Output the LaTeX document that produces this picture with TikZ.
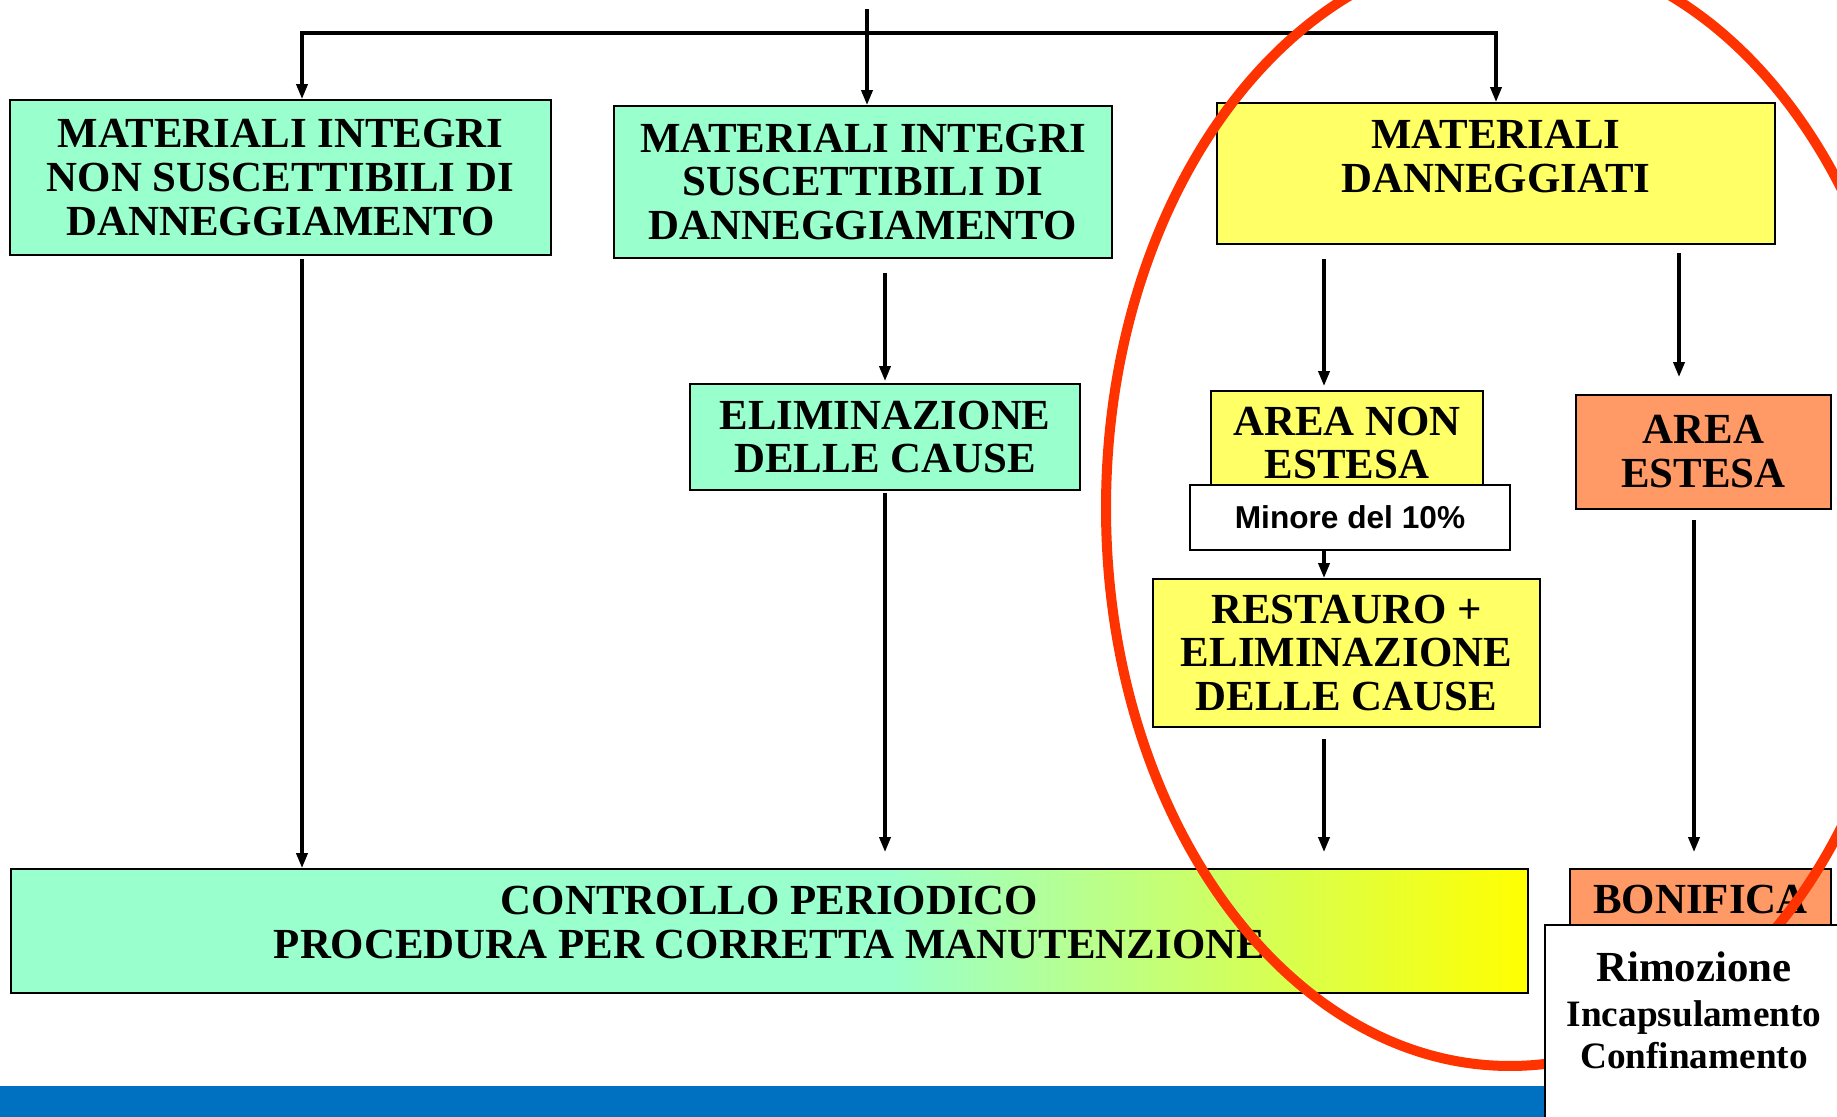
\documentclass[tikz,border=0pt]{standalone}
\usepackage{fontspec}
\setmainfont{Liberation Serif}
\newfontfamily\arialfont{Liberation Sans}
\usetikzlibrary{arrows.meta}

\definecolor{boxgreen}{HTML}{99FFCC}
\definecolor{boxyellow}{HTML}{FFFF66}
\definecolor{boxorange}{HTML}{FF9966}
\definecolor{ringred}{HTML}{FF3300}
\definecolor{barblue}{HTML}{0070C0}

% green to yellow, the path spans 25bp..75bp
\pgfdeclarehorizontalshading{controlshade}{100bp}{color(0bp)=(boxgreen); color(54bp)=(boxgreen); color(75bp)=(yellow); color(100bp)=(yellow)}

\newcommand{\boxfont}{\bfseries\fontsize{12.2}{12.5}\selectfont}

\begin{document}
\begin{tikzpicture}[x=0.1mm, y=-0.1mm,
  box/.style={draw, line width=0.5pt, align=center, inner sep=0pt, font=\boxfont},
  arr/.style={line width=1pt, -{Triangle[length=1.5mm, width=1.1mm]}}]

  \useasboundingbox (0,0) rectangle (1837,1117);
  \fill[barblue] (0,1086) rectangle (1837,1117);

  % Top row
  \node[box, fill=boxgreen, minimum width=54.1mm, minimum height=15.5mm] (integri) at (280.5,177.5)
    {MATERIALI INTEGRI\\NON SUSCETTIBILI DI\\DANNEGGIAMENTO};
  \node[box, fill=boxgreen, minimum width=49.8mm, minimum height=15.2mm] (suscett) at (863,182)
    {MATERIALI INTEGRI\\SUSCETTIBILI DI\\DANNEGGIAMENTO};
  \node[box, fill=boxyellow, minimum width=55.8mm, minimum height=14.1mm] (dann) at (1496,173.5)
    {MATERIALI\\DANNEGGIATI\\[-3pt]\mbox{}};

  % Middle row
  \node[box, fill=boxgreen, minimum width=39mm, minimum height=10.6mm] (elim) at (885,437)
    {ELIMINAZIONE\\DELLE CAUSE};
  \node[box, fill=boxyellow, minimum width=27.2mm, minimum height=10.4mm] (nonest) at (1347,443)
    {AREA NON\\ESTESA};
  \node[box, fill=white, minimum width=32mm, minimum height=6.5mm, font=\arialfont\bfseries\fontsize{9}{10}\selectfont] (minore) at (1350,517.5)
    {Minore del 10\%};
  \node[box, fill=boxorange, minimum width=25.5mm, minimum height=11.4mm] (estesa) at (1703.5,452)
    {AREA\\ESTESA};
  \node[box, fill=boxyellow, minimum width=38.7mm, minimum height=14.8mm] (restauro) at (1346.5,653)
    {RESTAURO +\\ELIMINAZIONE\\DELLE CAUSE};

  % Bottom row
  \node[box, shade, shading=controlshade, minimum width=151.7mm, minimum height=12.4mm] (controllo) at (769.5,931)
    {CONTROLLO PERIODICO\\PROCEDURA PER CORRETTA MANUTENZIONE\\[-7.4pt]\mbox{}};
  \node[box, fill=boxorange, minimum width=26.1mm, minimum height=6.2mm] (bonifica) at (1700.5,900)
    {BONIFICA};

  % Arrows
  \coordinate (top) at (867,9);
  \coordinate (split) at (867,33);
  \coordinate (leftcol) at (302,0);
  \coordinate (midcol) at (885,0);
  \coordinate (nonestcol) at (1324,0);
  \coordinate (estesacol) at (1679,0);
  \coordinate (bonificacol) at (1694,0);

  \draw[arr] (top) -- (top |- suscett.north);
  \draw[arr] (split) -| (integri.north -| leftcol);
  \draw[arr] (split) -| (dann.north);

  \draw[arr, shorten <=0.3mm] (integri.south -| leftcol) -- (controllo.north -| leftcol);
  \draw[arr, shorten <=1.4mm, shorten >=0.2mm] (suscett.south -| midcol) -- (elim.north -| midcol);
  \draw[arr, shorten <=0.2mm, shorten >=1.6mm] (elim.south -| midcol) -- (controllo.north -| midcol);
  \draw[arr, shorten <=1.4mm, shorten >=0.4mm] (dann.south -| nonestcol) -- (nonest.north -| nonestcol);
  \draw[arr, shorten <=0.8mm, shorten >=1.7mm] (dann.south -| estesacol) -- (estesa.north -| estesacol);
  \draw[arr] (minore.south -| nonestcol) -- (restauro.north -| nonestcol);
  \draw[arr, shorten <=1.1mm, shorten >=1.6mm] (restauro.south -| nonestcol) -- (controllo.north -| nonestcol);
  \draw[arr, shorten <=1mm, shorten >=1.6mm] (estesa.south -| bonificacol) -- (bonifica.north -| bonificacol);

  % Red ring round the damaged materials
  \draw[ringred, line width=1mm] (1510,508) ellipse [x radius=40.4mm, y radius=55.8mm];

  \node[box, fill=white, minimum width=29.8mm, minimum height=21mm, font=\bfseries\fontsize{10.6}{12}\selectfont] (rimoz) at (1694,1030)
    {{\fontsize{12.2}{13}\selectfont Rimozione}\\[1pt]Incapsulamento\\Confinamento\\[-0.7pt]\mbox{}};
\end{tikzpicture}
\end{document}
